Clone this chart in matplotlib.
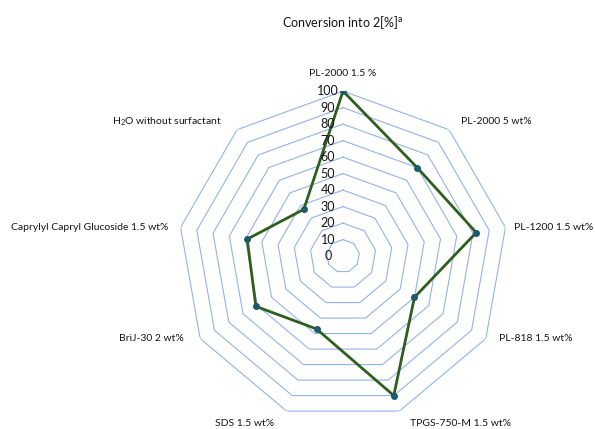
#!/usr/bin/env python
import matplotlib
matplotlib.use("Agg")
import matplotlib.pyplot as plt
import matplotlib.transforms as mtransforms
import numpy as np

# categories clockwise from the top
categories = ["PL-2000 1.5 %", "PL-2000 5 wt%", "PL-1200 1.5 wt%", "PL-818 1.5 wt%",
              "TPGS-750-M 1.5 wt%", "SDS 1.5 wt%", "BriJ-30 2 wt%",
              "Caprylyl Capryl Glucoside 1.5 wt%", "H$_\\mathregular{2}$O without surfactant"]
conversion = [100, 70, 82, 50, 90, 47, 61, 59, 37]
ring_values = [10, 20, 30, 40, 50, 60, 70, 80, 90, 100]
tick_values = [0, 10, 20, 30, 40, 50, 60, 70, 80, 90, 100]

# label placement (pixel offsets from the outer vertex, alignment)
label_pos = [(0, 18, "center"), (12, 8, "left"), (9, 0, "left"), (13, 0, "left"),
             (11, -12, "left"), (-12, -12, "right"), (-16, 0, "right"),
             (-12, 0, "right"), (-15, 8, "right")]

GRID = "#92b4e6"
LINE = "#2e5f1f"
MARK = "#1f5a6a"
TEXT = "#151515"

plt.rcParams['font.family'] = ['Lato', 'DejaVu Sans']

fig = plt.figure(figsize=(5.95, 4.29), dpi=100)
ax = fig.add_axes([0.2992, 0.0186, 0.5546, 0.769], projection="polar")
ax.set_theta_zero_location("N")
ax.set_theta_direction(-1)
ax.set_ylim(0, 100)
ax.grid(False)
ax.spines["polar"].set_visible(False)
ax.set_xticks([])
ax.set_yticks([])

n = len(categories)
angles = np.arange(n) * 2 * np.pi / n
closed = np.append(angles, angles[0])

# polygon gridlines
for r in ring_values:
  ax.plot(closed, [r] * (n + 1), color=GRID, linewidth=0.8, zorder=1)

# data line
vals = conversion + conversion[:1]
ax.plot(closed, vals, color=LINE, linewidth=2, zorder=3)
ax.plot(angles, conversion, "o", color=MARK, markersize=4, zorder=4)

# radial tick labels along the top spoke
for v in tick_values:
  tr = mtransforms.offset_copy(ax.transData, fig=fig, x=-15, y=0, units="dots")
  ax.text(0, v, str(v), transform=tr, ha="center", va="center", fontsize=9, color=TEXT, zorder=5)

# category labels
for ang, name, (dx, dy, ha) in zip(angles, categories, label_pos):
  tr = mtransforms.offset_copy(ax.transData, fig=fig, x=dx, y=dy, units="dots")
  ax.text(ang, 100, name, transform=tr, ha=ha, va="center", fontsize=7.5, color=TEXT)

fig.text(0.5765, 0.948, "Conversion into 2[%]$^\\mathregular{a}$", ha="center", va="center",
         fontsize=9, color=TEXT)

fig.savefig("out.png", dpi=100)
